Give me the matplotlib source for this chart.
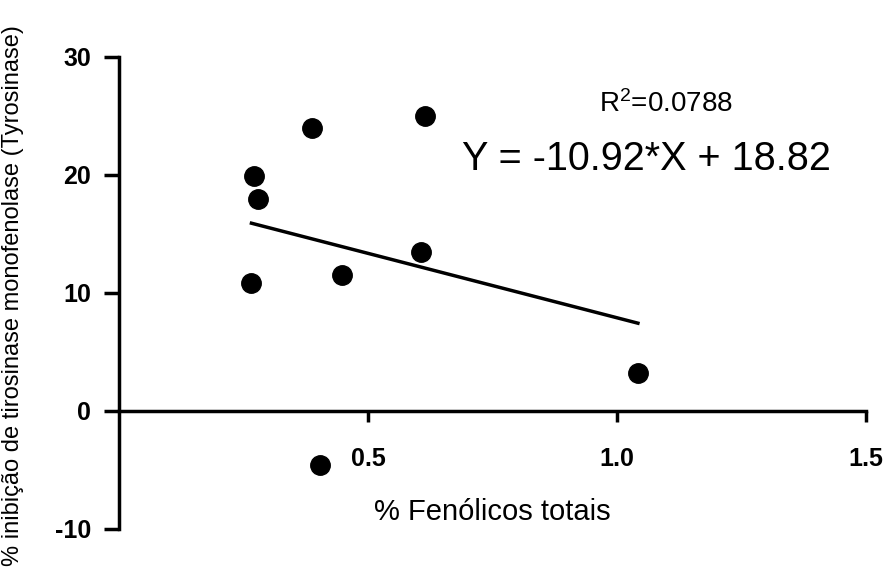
import numpy as np
import matplotlib.pyplot as plt

# dados
fenolicos = [0.266, 0.272, 0.280, 0.388, 0.404, 0.447, 0.606, 0.614, 1.042]
inibicao = [10.85, 19.9, 17.97, 24.0, -4.6, 11.5, 13.5, 25.0, 3.2]
inclinacao = -10.92
intercepto = 18.82
r2 = 0.0788
xticks = [0.5, 1.0, 1.5]
xticklabels = ['0.5', '1.0', '1.5']
yticks = [-10, 0, 10, 20, 30]

plt.rcParams['font.family'] = ['Liberation Sans', 'DejaVu Sans']
plt.rcParams['axes.unicode_minus'] = False
plt.rcParams['mathtext.fontset'] = 'custom'
plt.rcParams['mathtext.rm'] = 'Liberation Sans'
plt.rcParams['mathtext.it'] = 'Liberation Sans:italic'

fig = plt.figure(figsize=(8.9, 5.71), dpi=100)
ax = fig.add_axes([119/890, 1-529/571, (866-119)/890, (529-57)/571])

ax.plot(fenolicos, inibicao, 'o', color='black', markersize=14, clip_on=False)
xs = np.array([min(fenolicos), max(fenolicos)])
ax.plot(xs, inclinacao*xs + intercepto, color='black', lw=2.5)

ax.set_xlim(0, 1.5)
ax.set_ylim(-10, 30)
ax.spines['top'].set_visible(False)
ax.spines['right'].set_visible(False)
ax.spines['bottom'].set_position(('data', 0))
ax.spines['left'].set_linewidth(2.5)
ax.spines['bottom'].set_linewidth(2.5)

ax.set_xticks(xticks)
ax.set_xticklabels(xticklabels)
ax.set_yticks(yticks)
ax.tick_params(axis='y', length=11, width=2.5, pad=9, labelsize=18)
ax.tick_params(axis='x', length=8, width=2.5, pad=18, labelsize=18)
for lab in ax.get_xticklabels() + ax.get_yticklabels():
    lab.set_fontweight('bold')

fig.text(666/890, 1-112/571, 'R$^{2}$=%.4f' % r2, fontsize=20, ha='center', va='baseline')
fig.text(646/890, 1-170/571, 'Y = %.2f*X + %.2f' % (inclinacao, intercepto),
         fontsize=28.5, ha='center', va='baseline')
fig.text(492/890, 1-520/571, '% Fenólicos totais', fontsize=21, ha='center', va='baseline')
fig.text(13/890, 0.009, '% inibição de tirosinase monofenolase (Tyrosinase)',
         rotation=90, fontsize=17, ha='center', va='bottom')

fig.savefig('out.png', dpi=100)
